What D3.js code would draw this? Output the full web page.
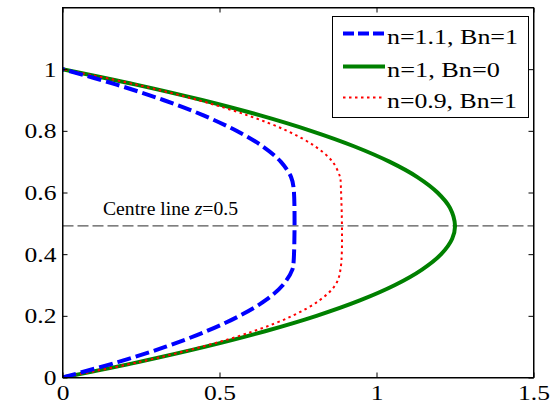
<!DOCTYPE html>
<html><head><meta charset="utf-8">
<script src="https://cdn.jsdelivr.net/npm/d3@7"></script>
<style>body{margin:0;background:#fff}</style>
</head><body><svg id="c" width="560" height="405"></svg>
<script>
// ---- data ----
const xTicks = [0, 0.5, 1, 1.5];
const yTicks = [0, 0.2, 0.4, 0.6, 0.8, 1];
const seriesNames = ["n=1.1, Bn=1", "n=1, Bn=0", "n=0.9, Bn=1"];
const centreZ = 0.492;
const centreLabel = "Centre line ";

// n=1.1, Bn=1 (blue dashed): velocity u at height z
const zBlue = [0, 0.05, 0.1, 0.15, 0.2, 0.25, 0.3, 0.35, 0.375, 0.615, 0.65, 0.7, 0.75, 0.8, 0.85, 0.9, 0.95, 1];
const uBlue = [0, 0.176, 0.329, 0.458, 0.564, 0.646, 0.702, 0.732, 0.736, 0.736, 0.728, 0.695, 0.637, 0.554, 0.449, 0.321, 0.172, 0];

// n=1, Bn=0 (green solid)
const zGreen = [0, 0.05, 0.1, 0.15, 0.2, 0.25, 0.3, 0.35, 0.4, 0.45, 0.492, 0.55, 0.6, 0.65, 0.7, 0.75, 0.8, 0.85, 0.9, 0.95, 1];
const uGreen = [0, 0.241, 0.456, 0.645, 0.809, 0.947, 1.059, 1.145, 1.206, 1.241, 1.25, 1.234, 1.194, 1.130, 1.041, 0.928, 0.791, 0.630, 0.444, 0.234, 0];

// n=0.9, Bn=1 (red dotted)
const zRed = [0, 0.05, 0.1, 0.15, 0.2, 0.25, 0.3, 0.355, 0.63, 0.65, 0.7, 0.75, 0.8, 0.85, 0.9, 0.95, 1];
const uRed = [0, 0.243, 0.445, 0.608, 0.732, 0.818, 0.869, 0.886, 0.886, 0.884, 0.860, 0.804, 0.715, 0.590, 0.431, 0.234, 0];

// ---- drawing ----
const FONT = '"Liberation Serif", "Times New Roman", serif';
const svg = d3.select("#c");
const L = 62.5, R = 533.5, T = 7.5, B = 377.5;
const x = d3.scaleLinear().domain([0, 1.5]).range([L, R]);
const y = d3.scaleLinear().domain([0, 1.2]).range([B, T]);

svg.append("defs").append("clipPath").attr("id", "clip")
  .append("rect").attr("x", L).attr("y", T).attr("width", R - L).attr("height", B - T);

const plot = svg.append("g").attr("clip-path", "url(#clip)");

// centre line
plot.append("line")
  .attr("x1", L).attr("x2", R).attr("y1", y(centreZ)).attr("y2", y(centreZ))
  .attr("stroke", "#555").attr("stroke-width", 1.3).attr("stroke-dasharray", "11,4");

const line = d3.line().x(d => x(d[0])).y(d => y(d[1])).curve(d3.curveCatmullRom.alpha(0.5));
const mk = (us, zs) => us.map((u, i) => [u, zs[i]]);

const series = [
  {data: mk(uBlue, zBlue), color: "#0000ff", w: 4, dash: "14,5"},
  {data: mk(uGreen, zGreen), color: "#008000", w: 4, dash: null},
  {data: mk(uRed, zRed), color: "#ff0000", w: 2, dash: "2.5,3.5"}
];
// draw order: green, red, blue
[1, 2, 0].forEach(i => {
  const s = series[i];
  plot.append("path").attr("d", line(s.data)).attr("fill", "none")
    .attr("stroke", s.color).attr("stroke-width", s.w)
    .attr("stroke-dasharray", s.dash);
});

// axes
const fmt = d => d3.format("")(d);
svg.append("g").attr("transform", `translate(0,${B})`)
  .call(d3.axisBottom(x).tickValues(xTicks).tickFormat(fmt).tickSize(-5).tickSizeOuter(0).tickPadding(7));
svg.append("g").attr("transform", `translate(${L},0)`)
  .call(d3.axisLeft(y).tickValues(yTicks).tickFormat(fmt).tickSize(-5).tickSizeOuter(0).tickPadding(6));
svg.append("g").attr("transform", `translate(0,${T})`)
  .call(d3.axisTop(x).tickValues(xTicks).tickFormat("").tickSize(-5).tickSizeOuter(0));
svg.append("g").attr("transform", `translate(${R},0)`)
  .call(d3.axisRight(y).tickValues(yTicks).tickFormat("").tickSize(-5).tickSizeOuter(0));
svg.selectAll("g").attr("font-family", null).attr("font-size", null);
svg.selectAll(".domain, .tick line").attr("stroke", "#000").attr("stroke-width", 1);
svg.selectAll(".tick text").style("font-family", FONT).style("font-size", "22px").attr("fill", "#000")
  .each(function () { const l = this.getComputedTextLength(); this.setAttribute("textLength", l * 1.16); this.setAttribute("lengthAdjust", "spacingAndGlyphs"); });

// border
svg.append("rect").attr("x", L).attr("y", T).attr("width", R - L).attr("height", B - T)
  .attr("fill", "none").attr("stroke", "#000").attr("stroke-width", 1);

// centre line label
const ct = svg.append("text").attr("x", 103).attr("y", 215)
  .style("font-family", FONT).style("font-size", "19px").attr("fill", "#000")
  .attr("textLength", 135).attr("lengthAdjust", "spacingAndGlyphs");
ct.append("tspan").text(centreLabel);
ct.append("tspan").style("font-style", "italic").text("z");
ct.append("tspan").text("=0.5");

// legend
const lg = svg.append("g");
lg.append("rect").attr("x", 332.5).attr("y", 16.5).attr("width", 196).attr("height", 101)
  .attr("fill", "#fff").attr("stroke", "#000").attr("stroke-width", 1);
const legY = [33.5, 66.5, 97.5];
const legW = [131, 113, 130];
series.forEach((s, i) => {
  lg.append("line").attr("x1", 343).attr("x2", 385).attr("y1", legY[i]).attr("y2", legY[i])
    .attr("stroke", s.color).attr("stroke-width", s.w).attr("stroke-dasharray", i === 0 ? "11,4" : s.dash);
  lg.append("text").attr("x", 387).attr("y", legY[i] + 10.3)
    .style("font-family", FONT).style("font-size", "22px").attr("fill", "#000")
    .attr("textLength", legW[i]).attr("lengthAdjust", "spacingAndGlyphs").text(seriesNames[i]);
});
</script></body></html>
